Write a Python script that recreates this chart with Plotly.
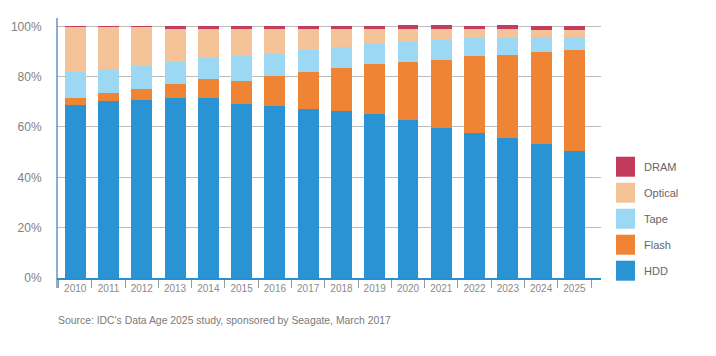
import plotly.graph_objects as go

years = [str(y) for y in range(2010, 2026)]
hdd     = [68.7, 70.3, 70.7, 71.5, 71.5, 69.1, 68.3, 67.1, 66.3, 65.2, 62.8, 59.6, 57.6, 55.6, 53.2, 50.5]
flash   = [2.8, 3.2, 4.4, 5.6, 7.6, 9.2, 12.0, 14.7, 17.1, 19.8, 23.0, 27.0, 30.6, 33.0, 36.6, 40.1]
tape    = [10.2, 9.5, 9.0, 8.6, 8.2, 9.9, 8.7, 8.8, 8.4, 8.0, 8.0, 8.0, 7.2, 6.8, 6.0, 5.2]
optical = [18.1, 16.8, 15.7, 13.6, 12.0, 11.1, 10.3, 8.7, 7.5, 6.3, 5.1, 4.3, 3.5, 3.5, 2.7, 2.7]
dram    = [0.2, 0.2, 0.2, 0.7, 0.7, 0.7, 0.7, 0.7, 0.7, 0.7, 1.6, 1.6, 1.1, 1.6, 1.5, 1.5]

series = [
    ("HDD", hdd, "#2a93d3"),
    ("Flash", flash, "#ee8434"),
    ("Tape", tape, "#9cd7f3"),
    ("Optical", optical, "#f5c398"),
    ("DRAM", dram, "#c43d5e"),
]

FONT = "Liberation Sans, Arial, sans-serif"

fig = go.Figure()
for name, vals, col in series:
    fig.add_trace(go.Bar(x=years, y=vals, name=name, marker_color=col,
                         marker_line_width=0, showlegend=False))

# plot area geometry in pixels
L, R, T, B = 57, 601, 18, 278
W, H = 716, 356

def px(xp):
    return (xp - L) / (R - L)

def py(yp):
    return (B - yp) / (B - T)

shapes = []
# extended y-axis line
shapes.append(dict(type="line", xref="paper", yref="paper", x0=0, x1=0,
                   y0=py(288), y1=1, line=dict(color="#3b7bb8", width=1.2)))
annotations = []
legend_items = [("DRAM", "#c43a5a"), ("Optical", "#f5c398"), ("Tape", "#9cd7f3"),
                ("Flash", "#ee8434"), ("HDD", "#2a93d3")]
for i, (name, col) in enumerate(legend_items):
    top = 156.7 + i * 26.0
    shapes.append(dict(type="rect", xref="paper", yref="paper",
                       x0=px(616), x1=px(635), y0=py(top + 20), y1=py(top),
                       fillcolor=col, line=dict(width=0)))
    annotations.append(dict(text=name, xref="paper", yref="paper", x=px(641.5), y=py(top + 10),
                            xanchor="left", yanchor="middle", showarrow=False,
                            font=dict(family=FONT, size=11, color="#666666")))

annotations.append(dict(text="Source: IDC's Data Age 2025 study, sponsored by Seagate, March 2017",
                        xref="paper", yref="paper", x=px(56), y=py(320), xanchor="left",
                        yanchor="middle", showarrow=False,
                        font=dict(family=FONT, size=10.4, color="#7a7a7a")))

fig.update_layout(
    barmode="stack",
    bargap=0.37,
    width=W, height=H,
    margin=dict(l=L, r=W - R, t=T, b=H - B, pad=0, autoexpand=False),
    paper_bgcolor="white", plot_bgcolor="white",
    font=dict(family=FONT, color="#808080"),
    shapes=shapes,
    annotations=annotations,
    xaxis=dict(type="category", range=[-0.548, 15.8], tickson="boundaries",
               ticks="outside", ticklen=8, tickcolor="#9a9a9a", tickwidth=1,
               showline=True, linecolor="#2a8fd0", linewidth=1.5, automargin=False,
               showgrid=False, tickfont=dict(size=10, color="#8a8a8a"), fixedrange=True),
    yaxis=dict(range=[0, 103.3], tickvals=[0, 20, 40, 60, 80, 100],
               ticktext=["0%", "20%", "40%", "60%", "80%", "100%"],
               showgrid=True, gridcolor="#bdbdbd", gridwidth=1, automargin=False,
               zeroline=False, showline=False,
               ticks="outside", ticklen=12, tickcolor="rgba(0,0,0,0)",
               tickfont=dict(size=12, color="#808080"), fixedrange=True),
)

fig.write_html("out.html", config={"displayModeBar": False},
               post_script="document.body.style.margin='0';document.body.style.overflow='hidden';")
